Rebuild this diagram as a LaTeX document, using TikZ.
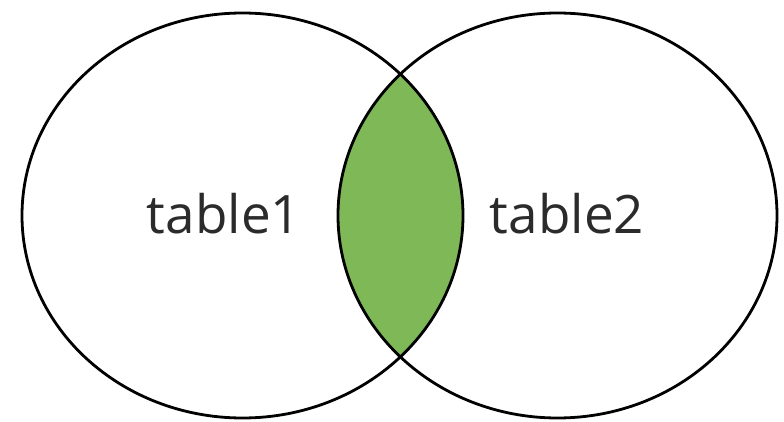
\documentclass[tikz,border=0pt]{standalone}
\usepackage{fontspec}
\setmainfont{Open Sans}
\definecolor{lensgreen}{HTML}{7FB857}
\definecolor{labelgray}{HTML}{2B2B2B}
\tikzset{
  ring/.style={draw=black, line width=2.8pt},
  setlabel/.style={text=labelgray, font=\fontsize{53}{60}\selectfont, inner sep=0pt}
}
\begin{document}
\begin{tikzpicture}[x=1pt,y=1pt]
\useasboundingbox (0,0) rectangle (784,421);
% centers: y flipped (421 - y)
\coordinate (cL) at (242.5,205.5);
\coordinate (cR) at (557.5,205.5);
\begin{scope}
  \clip (cL) ellipse [x radius=220.5, y radius=202.5];
  \fill[lensgreen] (cR) ellipse [x radius=219.5, y radius=202.5];
\end{scope}
\draw[ring] (cL) ellipse [x radius=220.5, y radius=202.5];
\draw[ring] (cR) ellipse [x radius=219.5, y radius=202.5];
\node[setlabel, anchor=base] (t1) at (224,188) {table1};
\node[setlabel, anchor=base] (t2) at (567,188) {table2};
\end{tikzpicture}
\end{document}
